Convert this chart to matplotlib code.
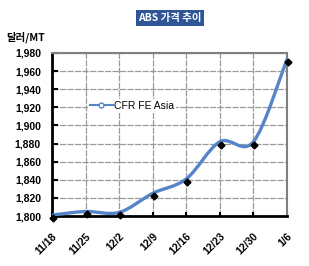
import numpy as np
import matplotlib
matplotlib.use("Agg")
import matplotlib.pyplot as plt
from matplotlib.path import Path
from matplotlib.patches import PathPatch
import matplotlib.transforms as mtransforms

plt.rcParams["font.family"] = ["Liberation Sans", "Noto Sans CJK KR", "DejaVu Sans"]

# data
dates = ["11/18", "11/25", "12/2", "12/9", "12/16", "12/23", "12/30", "1/6"]
cfr_fe_asia = [1801, 1805, 1804, 1825, 1841, 1882, 1882, 1973]
y_ticks = [1800, 1820, 1840, 1860, 1880, 1900, 1920, 1940, 1960, 1980]

blue = "#5585C8"

fig = plt.figure(figsize=(3.09, 2.66), dpi=100)
ax = fig.add_axes([52 / 309, 1 - 216 / 266, 235 / 309, 163 / 266])

x = np.arange(len(dates))
y = np.array(cfr_fe_asia, dtype=float)


def smooth_path(xs, ys):
    # bezier curve like excel's "smoothed line"
    verts = [(xs[0], ys[0])]
    codes = [Path.MOVETO]
    n = len(xs)
    for i in range(n - 1):
        x0, y0 = (xs[i - 1], ys[i - 1]) if i > 0 else (xs[i], ys[i])
        x3, y3 = (xs[i + 2], ys[i + 2]) if i + 2 < n else (xs[i + 1], ys[i + 1])
        c1 = (xs[i] + (xs[i + 1] - x0) / 6, ys[i] + (ys[i + 1] - y0) / 6)
        c2 = (xs[i + 1] - (x3 - xs[i]) / 6, ys[i + 1] - (y3 - ys[i]) / 6)
        verts += [c1, c2, (xs[i + 1], ys[i + 1])]
        codes += [Path.CURVE4] * 3
    return Path(verts, codes)


patch = PathPatch(smooth_path(x, y), facecolor="none", edgecolor=blue,
                  lw=2.4, capstyle="round", joinstyle="round", zorder=4)
ax.add_patch(patch)

# black diamonds sit a little below/right of the line
shift = mtransforms.offset_copy(ax.transData, fig=fig, x=1, y=-3, units="dots")
ax.plot(x, y, ls="none", marker="D", ms=3.5, color="black",
        transform=shift, zorder=5, clip_on=False)

# legend handle only
ax.plot([], [], color=blue, lw=1.5, marker="o", ms=3.5, mfc="white",
        mec=blue, label="CFR FE Asia")

ax.set_xlim(0, len(dates) - 1)
ax.set_ylim(1800, 1980)
ax.set_yticks(y_ticks)
ax.set_yticklabels([f"{v:,}" for v in y_ticks], fontsize=7.5, fontweight="bold")
ax.set_xticks(x)
ax.set_xticklabels(dates, fontsize=7.5, fontweight="bold", rotation=45,
                   ha="right", rotation_mode="anchor")

ax.grid(True, color="#9A9A9A", lw=0.9, ls=(0, (5, 1)))
ax.set_axisbelow(True)
ax.tick_params(axis="y", direction="in", length=4, width=1.5, color="black", pad=8)
ax.tick_params(axis="x", direction="in", length=3, width=1.5, color="black", pad=11)

for side in ["left", "bottom"]:
    ax.spines[side].set_color("black")
    ax.spines[side].set_linewidth(2)
for side in ["top", "right"]:
    ax.spines[side].set_color("#808080")
    ax.spines[side].set_linewidth(1.5)

leg = ax.legend(loc="center left", bbox_to_anchor=(0.13, 0.675), fontsize=7.5,
                frameon=True, framealpha=1, edgecolor="none", fancybox=False,
                handlelength=2.2, handletextpad=0.1, borderpad=0.2)

fig.text(6 / 309, 1 - 37 / 266, "달러/MT", fontsize=7.5, fontweight="bold",
         family=["Noto Sans CJK KR", "DejaVu Sans"], va="center", ha="left")
fig.text(170 / 309, 1 - 18 / 266, "ABS 가격 추이", fontsize=7.5, fontweight="bold",
         color="white", family=["Noto Sans CJK KR", "DejaVu Sans"],
         va="center", ha="center",
         bbox=dict(boxstyle="square,pad=0.25", fc="#2F5597", ec="none"))

fig.savefig("out.png", dpi=100)
